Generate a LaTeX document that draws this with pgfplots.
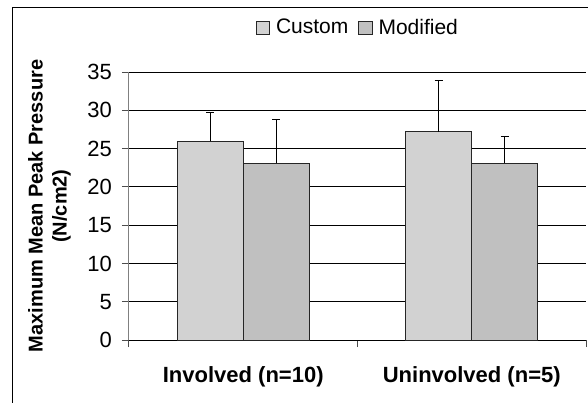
\documentclass[border=0pt]{standalone}
\usepackage{fontspec}
\setmainfont{Liberation Sans}
\usepackage{pgfplots}
\pgfplotsset{compat=1.18}
\definecolor{custom}{RGB}{210,210,210}
\definecolor{modif}{RGB}{192,192,192}
\begin{document}
\begin{tikzpicture}
\useasboundingbox (-64.5pt,-31pt) rectangle (229.5pt,170pt);
\clip (-64.5pt,-31pt) rectangle (229.5pt,170pt);
\begin{axis}[
  at={(0,0)}, anchor=south west,
  scale only axis, width=228.5pt, height=134pt,
  ybar=0pt, bar width=33pt,
  xmin=-0.5, xmax=1.5, ymin=0, ymax=35,
  ytick={0,5,...,35},
  xtick={-0.5,0.5,1.5},
  xticklabels={Involved (n=10), Uninvolved (n=5)},
  x tick label as interval,
  axis lines=left,
  x axis line style={-, black, line width=0.5pt},
  y axis line style={-, gray, line width=0.5pt},
  tick align=outside, major tick length=3.5pt,
  major tick style={black!70, line width=0.5pt},
  ymajorgrids, major grid style={black, line width=0.5pt},
  /pgf/number format/assume math mode=true,
  yticklabel style={font=\fontsize{11}{13}\selectfont, xshift=-1.5pt},
  xticklabel style={font=\bfseries\fontsize{11}{13}\selectfont, yshift=-6pt},
  ylabel={Maximum Mean Peak Pressure\\(N/cm2)},
  ylabel style={at={(axis description cs:-0.174,0.5)}, anchor=center, align=center,
    font=\bfseries\fontsize{10}{12}\selectfont},
  legend style={draw=none, fill=none, at={(axis description cs:0.503,1.164)}, anchor=center,
    legend columns=2, font=\fontsize{10.5}{12}\selectfont,
    /tikz/every odd column/.append style={column sep=1pt},
    /tikz/every even column/.append style={column sep=3pt}},
  legend image code/.code={\draw[#1] (0pt,-3.3pt) rectangle (6.6pt,3.3pt);},
]
\addplot[fill=custom, draw=black!85, line width=0.5pt,
  error bars/.cd, y dir=plus, y explicit,
  error bar style={black, line width=0.5pt},
  error mark options={rotate=90, black, mark size=2pt, line width=0.5pt}]
  coordinates {(0,25.96) +- (0,3.71) (1,27.19) +- (0,6.75)};
\addplot[fill=modif, draw=black!85, line width=0.5pt,
  error bars/.cd, y dir=plus, y explicit,
  error bar style={black, line width=0.5pt},
  error mark options={rotate=90, black, mark size=2pt, line width=0.5pt}]
  coordinates {(0,23.08) +- (0,5.72) (1,23.08) +- (0,3.52)};
\legend{Custom, Modified}
\end{axis}
\draw[black, line width=0.5pt] (-58pt,-40pt) -- (-58pt,166pt) -- (240pt,166pt);
\end{tikzpicture}
\end{document}
